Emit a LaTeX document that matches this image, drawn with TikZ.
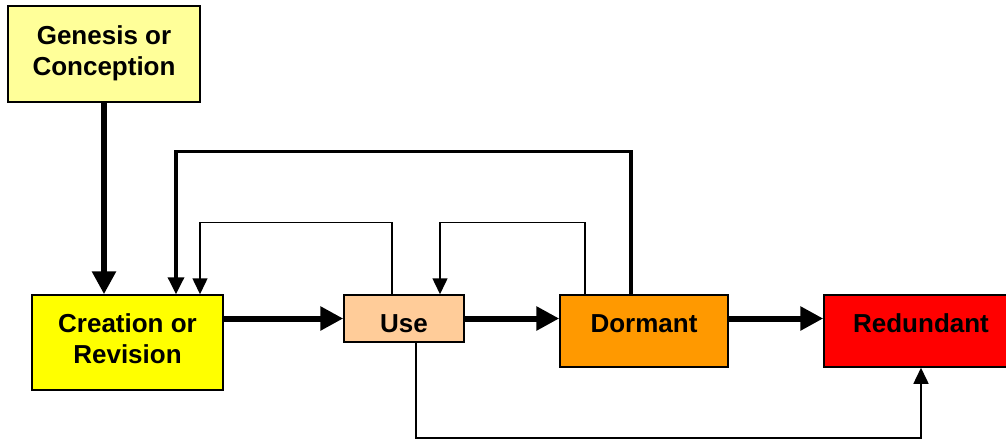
\documentclass[tikz,border=0pt]{standalone}
\usepackage{fontspec}
\setmainfont{Liberation Sans}
\usetikzlibrary{arrows.meta}
\definecolor{genfill}{HTML}{FFFF99}
\definecolor{crfill}{HTML}{FFFF00}
\definecolor{usefill}{HTML}{FFCC99}
\definecolor{dorfill}{HTML}{FF9900}
\definecolor{redfill}{HTML}{FF0000}
\tikzset{
  stbox/.style={draw=black, line width=1.5pt, inner sep=0pt,
    font=\fontsize{26}{31}\selectfont\bfseries},
  bigarrow/.style={line width=6pt, -{Triangle[length=23pt,width=23pt]}},
  midarrow/.style={line width=3.5pt, -{Triangle[length=17pt,width=16pt]}},
  thinarrow/.style={line width=1.5pt, -{Triangle[length=16pt,width=15pt]}},
}
\begin{document}
\begin{tikzpicture}[x=1pt,y=-1pt]
\useasboundingbox (0,0) rectangle (1006,439);
\clip (0,0) rectangle (1006,439);
\node[stbox, fill=genfill, minimum width=192pt, minimum height=96pt,
  text height=60pt, text depth=18pt] (gen) at (104,54)
  {\begin{tabular}[b]{@{}c@{}}Genesis or\\Conception\end{tabular}};
\node[stbox, fill=crfill, minimum width=191pt, minimum height=95pt,
  text height=59pt, text depth=18pt] (cr) at (127.5,342.5)
  {\begin{tabular}[b]{@{}c@{}}Creation or\\Revision\end{tabular}};
\node[stbox, fill=usefill, minimum width=120pt, minimum height=47pt,
  text height=30pt, text depth=3pt] (use) at (404,318.5) {Use};
\node[stbox, fill=dorfill, minimum width=168pt, minimum height=72pt,
  text height=20pt, text depth=18pt] (dor) at (644,331) {Dormant};
\node[stbox, fill=redfill, minimum width=194pt, minimum height=72pt,
  text height=20pt, text depth=18pt] (red) at (921,331) {Redundant};

\draw[bigarrow] (gen.south) -- (gen.south |- cr.north);
\draw[bigarrow] (cr.east |- use.west) -- (use.west);
\draw[bigarrow] (use.east) -- (use.east -| dor.west);
\draw[bigarrow] (dor.east |- use.east) -- (red.west |- use.east);

\draw[midarrow] ([xshift=-13pt]dor.north) -- ++(0,-143) -| ([xshift=48.5pt]cr.north);
\draw[thinarrow] ([xshift=-12pt]use.north) -- ++(0,-72) -| ([xshift=72.5pt]cr.north);
\draw[thinarrow] ([xshift=-59pt]dor.north) -- ++(0,-72) -| ([xshift=36pt]use.north);
\draw[thinarrow] ([xshift=12pt]use.south) -- ++(0,95) -| (red.south);
\end{tikzpicture}
\end{document}
